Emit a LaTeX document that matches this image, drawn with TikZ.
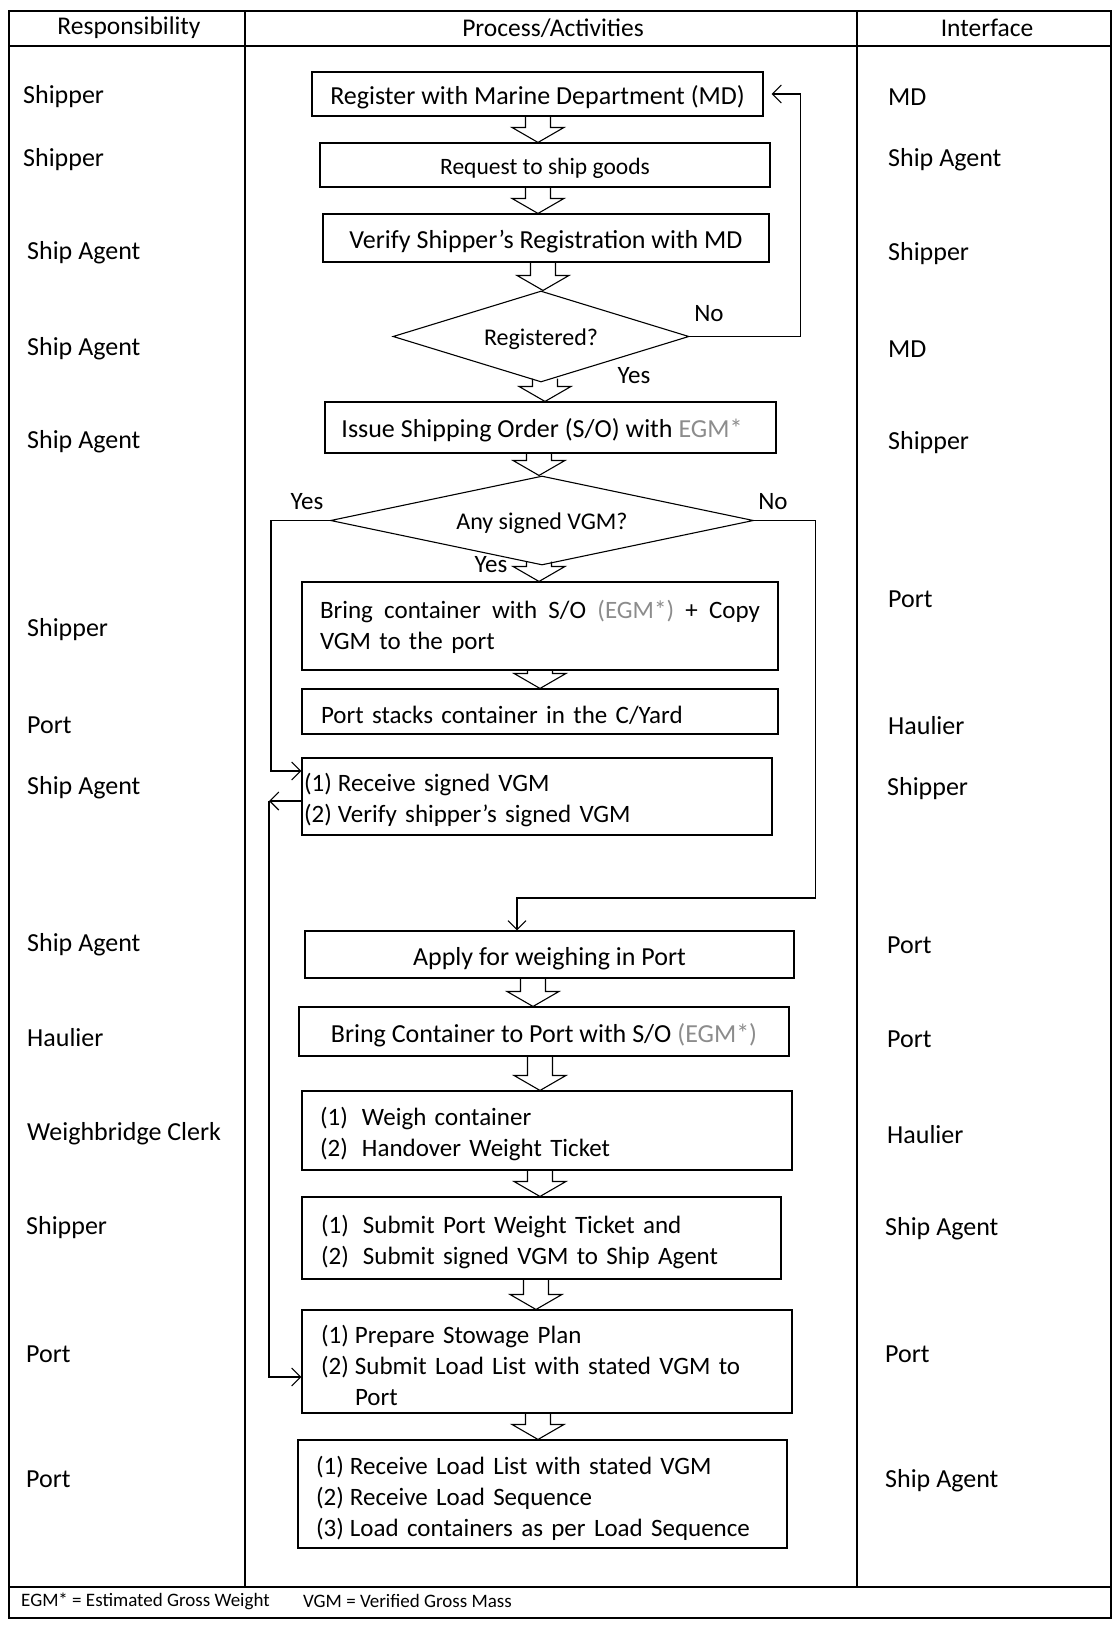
\documentclass[tikz,border=0pt]{standalone}
\usepackage{fontspec}
\setmainfont{Carlito}
\usetikzlibrary{shapes.geometric,arrows.meta,calc}
\definecolor{egmgray}{HTML}{8C8C8C}
\newcommand{\egm}[1]{\textcolor{egmgray}{#1}}
\newcommand{\flowarrow}[3]{\draw[blockarrow] let \p1=(#2), \p2=(#3) in
  ({#1pt-12.5pt},\y1) -- ({#1pt-12.5pt},{\y2+15pt}) -- ({#1pt-26pt},{\y2+15pt}) -- ({#1pt},\y2)
  -- ({#1pt+26pt},{\y2+15pt}) -- ({#1pt+12.5pt},{\y2+15pt}) -- ({#1pt+12.5pt},\y1);}
\tikzset{
  stepbox/.style={draw, line width=1.1pt, inner sep=0pt, text height=26pt, font=\fontsize{26}{31}\selectfont},
  listbox/.style 2 args={stepbox, align=left, inner xsep=#1, text width=#2, font=\fontsize{25}{31}\selectfont},
  decision/.style={diamond, draw, line width=1.1pt, inner sep=0pt, text height=22pt, font=\fontsize{24}{28}\selectfont},
  rolelabel/.style={anchor=west, inner sep=0pt, text height=22pt, font=\fontsize{26}{30}\selectfont},
  headlabel/.style={inner sep=0pt, font=\fontsize{25.5}{30}\selectfont},
  answer/.style={inner sep=0pt, font=\fontsize{25}{29}\selectfont},
  footlabel/.style={anchor=west, inner sep=0pt, font=\fontsize{19}{22}\selectfont},
  flowline/.style={line width=1.1pt, -{Straight Barb[length=9pt,width=18pt,line width=1.1pt]}},
  blockarrow/.style={line width=1.1pt, line join=miter},
  tableline/.style={line width=1.1pt}
}
\begin{document}
\begin{tikzpicture}[x=1pt,y=-1pt]
\useasboundingbox (0,0) rectangle (1113,1628);

\draw[tableline] (9,11) rectangle (1111,1618);
\draw[tableline] (9,46) -- (1111,46);
\draw[tableline] (9,1587) -- (1111,1587);
\draw[tableline] (245,11) -- (245,1587);
\draw[tableline] (857,11) -- (857,1587);

\node[headlabel] (headresp) at (129,28) {Responsibility};
\node[headlabel] (headproc) at (553,28) {Process/Activities};
\node[headlabel] (headintf) at (987,28) {Interface};

\node[rolelabel] (resp1) at (23,95) {Shipper};
\node[rolelabel] (resp2) at (23,158) {Shipper};
\node[rolelabel] (resp3) at (27,251) {Ship Agent};
\node[rolelabel] (resp4) at (27,347) {Ship Agent};
\node[rolelabel] (resp5) at (27,440) {Ship Agent};
\node[rolelabel] (resp6) at (27,628) {Shipper};
\node[rolelabel] (resp7) at (27,723) {Port};
\node[rolelabel] (resp8) at (27,786) {Ship Agent};
\node[rolelabel] (resp9) at (27,943) {Ship Agent};
\node[rolelabel] (resp10) at (27,1036) {Haulier};
\node[rolelabel] (resp11) at (27,1132) {Weighbridge Clerk};
\node[rolelabel] (resp12) at (26,1226) {Shipper};
\node[rolelabel] (resp13) at (26,1352) {Port};
\node[rolelabel] (resp14) at (26,1477) {Port};

\node[rolelabel] (intf1) at (888,94) {MD};
\node[rolelabel] (intf2) at (888,158) {Ship Agent};
\node[rolelabel] (intf3) at (888,252) {Shipper};
\node[rolelabel] (intf4) at (888,346) {MD};
\node[rolelabel] (intf5) at (888,441) {Shipper};
\node[rolelabel] (intf6) at (888,597) {Port};
\node[rolelabel] (intf7) at (888,724) {Haulier};
\node[rolelabel] (intf8) at (887,787) {Shipper};
\node[rolelabel] (intf9) at (887,943) {Port};
\node[rolelabel] (intf10) at (887,1037) {Port};
\node[rolelabel] (intf11) at (887,1133) {Haulier};
\node[rolelabel] (intf12) at (885,1227) {Ship Agent};
\node[rolelabel] (intf13) at (885,1352) {Port};
\node[rolelabel] (intf14) at (885,1479) {Ship Agent};

\node[stepbox, minimum width=451, minimum height=44] (register) at (537.5,94) {Register with Marine Department (MD)};
\node[stepbox, minimum width=450, minimum height=44, text height=22.5pt, font=\fontsize{23.5}{28}\selectfont] (request) at (545,165) {Request to ship goods};
\node[stepbox, minimum width=446, minimum height=48] (verify) at (546,238) {Verify Shipper’s Registration with MD};
\node[decision, aspect=3.25, minimum width=296, minimum height=91] (registered) at (541,336.5) {Registered?};
\node[stepbox, minimum width=451, minimum height=51, text height=24pt] (issue) at (550.5,427.5) {Issue Shipping Order (S/O) with \egm{EGM*}\hspace*{17pt}};
\node[decision, aspect=4.75, minimum width=423, minimum height=89] (signed) at (542,520.5) {Any signed VGM?};
\node[listbox={18pt}{440pt}, minimum height=88, text height=20pt] (bring) at (540,626) {\makebox[440pt][s]{Bring\hfill container\hfill with\hfill S/O\hfill \egm{(EGM*)}\hfill +\hfill Copy}\\VGM to the port};
\node[listbox={19pt}{438pt}, minimum height=45] (stack) at (540,711.5) {Port stacks container in the C/Yard};
\node[listbox={2pt}{466pt}, minimum height=77] (receive) at (537,796.5) {\makebox[34pt][l]{(1)}Receive signed VGM\\\makebox[34pt][l]{(2)}Verify shipper’s signed VGM};
\node[stepbox, minimum width=489, minimum height=47] (apply) at (549.5,954.5) {Apply for weighing in Port};
\node[stepbox, minimum width=490, minimum height=49] (haul) at (544,1031.5) {Bring Container to Port with S/O \egm{(EGM*)}};
\node[listbox={18pt}{454pt}, minimum height=79] (weigh) at (547,1130.5) {\makebox[42pt][l]{(1)}Weigh container\\\makebox[42pt][l]{(2)}Handover Weight Ticket};
\node[listbox={19pt}{441pt}, minimum height=82] (submit) at (541.5,1238) {\makebox[42pt][l]{(1)}Submit Port Weight Ticket and\\\makebox[42pt][l]{(2)}Submit signed VGM to Ship Agent};
\node[listbox={19pt}{452pt}, minimum height=103] (stowage) at (547,1361.5) {\makebox[34pt][l]{(1)}Prepare Stowage Plan\\\makebox[34pt][l]{(2)}Submit Load List with stated VGM to\\\hspace*{34pt}Port};
\node[listbox={18pt}{453pt}, minimum height=108] (load) at (542.5,1494) {\makebox[34pt][l]{(1)}Receive Load List with stated VGM\\\makebox[34pt][l]{(2)}Receive Load Sequence\\\makebox[34pt][l]{(3)}Load containers as per Load Sequence};

\node[answer] (regno) at (709,314) {No};
\node[answer] (regyes) at (634,376) {Yes};
\node[answer] (vgmyesleft) at (307,502) {Yes};
\node[answer] (vgmno) at (773,502) {No};
\node[answer] (vgmyes) at (491,565) {Yes};

\node[footlabel] (footegm) at (21,1601) {EGM* = Estimated Gross Weight};
\node[footlabel] (footvgm) at (303,1601) {VGM = Verified Gross Mass};

\flowarrow{538}{register.south}{request.north}
\flowarrow{538}{request.south}{verify.north}
\flowarrow{543}{verify.south}{registered.north}
\flowarrow{545}{[yshift=4pt]registered.south}{issue.north}
\flowarrow{539}{issue.south}{signed.north}
\flowarrow{539}{[yshift=4pt]signed.south}{bring.north}
\flowarrow{540}{bring.south}{stack.north}
\flowarrow{533}{apply.south}{haul.north}
\flowarrow{540}{haul.south}{weigh.north}
\flowarrow{540}{weigh.south}{submit.north}
\flowarrow{536}{submit.south}{stowage.north}
\flowarrow{538}{stowage.south}{load.north}

\coordinate (nodrop) at (517,898);
\coordinate (backtop) at (269,801);

\draw[flowline] (registered.east) -| ([xshift=37pt]register.east) -- ([xshift=8pt]register.east);
\draw[flowline] (signed.west) -- ++(-59,0) |- ([yshift=25.5pt]receive.west);
\draw[flowline] (signed.east) -- ++(61,0) |- (nodrop) -- (nodrop |- apply.north);
\draw[flowline] ([yshift=-4.5pt]receive.west) -- (backtop);
\draw[flowline] (backtop) |- ([yshift=-15.5pt]stowage.west);
\end{tikzpicture}
\end{document}
